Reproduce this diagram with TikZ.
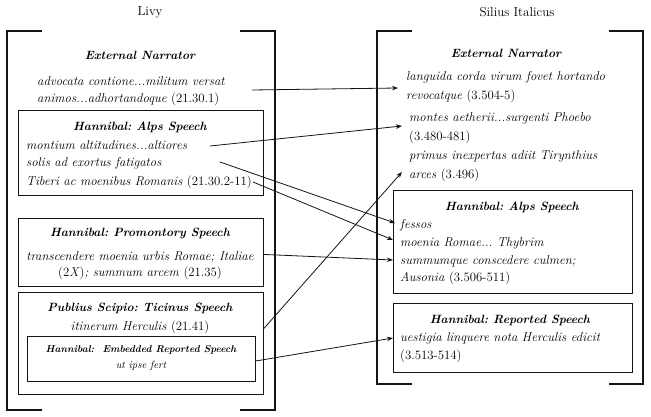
\documentclass[tikz,border=0pt]{standalone}
\usetikzlibrary{arrows.meta}
\newcommand{\passage}[1]{\textup{(#1)}}
\frenchspacing
\begin{document}
\begin{tikzpicture}[x=1pt,y=-1pt]

    % Plain black ink throughout
    \definecolor{inkcol}{RGB}{20,20,20}

    % Common text and line styles
    \tikzset{
        colhead/.style={font=\fontsize{13}{15}\selectfont, inner sep=0pt},
        voice/.style={font=\fontsize{12}{14}\selectfont\bfseries\itshape, inner sep=0pt},
        smallvoice/.style={font=\fontsize{10}{12}\selectfont\bfseries\itshape, inner sep=0pt},
        quoteline/.style={font=\fontsize{12.8}{15}\selectfont\itshape, inner sep=0pt, anchor=west},
        smallquote/.style={font=\fontsize{10.5}{12}\selectfont\itshape, inner sep=0pt},
        speechbox/.style={draw=inkcol, line width=0.9pt, inner sep=0pt, anchor=north west},
        sidebracket/.style={draw=inkcol, line width=1.2pt},
        link/.style={draw=inkcol, line width=0.8pt, -{Stealth[length=6pt,width=4.5pt]}}
    }

    \useasboundingbox (0,0) rectangle (651,417);

    % ======================= Livy =======================
    \begin{scope}
        \node[colhead] (livy) at (150,12) {Livy};
        \draw[sidebracket] (42,31) -- (7,31) -- (7,410) -- (42,410);
        \draw[sidebracket] (240,31) -- (275,31) -- (275,410) -- (240,410);

        \node[voice] (lnar) at (140,55) {External Narrator};
        \node[quoteline] (ladvA) at (37,81) {advocata contione...militum versat};
        \node[quoteline] (ladvB) at (37,99) {animos...adhortandoque \passage{21.30.1}};
        \coordinate (ladvout) at (252,90);

        \node[speechbox, minimum width=245pt, minimum height=85pt] (lalps) at (18,110) {};
        \node[voice] (lalpsT) at (140,127) {Hannibal: Alps Speech};
        \node[quoteline] (lmont) at (26,145) {montium altitudines...altiores};
        \node[quoteline] (lsolis) at (26,163) {solis ad exortus fatigatos};
        \node[quoteline] (ltib) at (26,182) {Tiberi ac moenibus Romanis \passage{21.30.2-11}};
        \coordinate (lmontout) at (210,146);
        \coordinate (lsolisout) at (220,162);

        \node[speechbox, minimum width=245pt, minimum height=68pt] (lprom) at (18,218) {};
        \node[voice] (lpromT) at (140,233) {Hannibal: Promontory Speech};
        \node[quoteline, anchor=center] (lpromA) at (140,257)
            {transcendere moenia urbis Romae; Italiae};
        \node[quoteline, anchor=center] (lpromB) at (140,273)
            {\textup{(2}X\textup{)}; summum arcem \passage{21.35}};

        \node[speechbox, minimum width=245pt, minimum height=102pt] (lscip) at (18,292) {};
        \node[voice] (lscipT) at (140,308) {Publius Scipio: Ticinus Speech};
        \node[quoteline, anchor=center] (litin) at (140,327) {itinerum Herculis \passage{21.41}};

        \node[speechbox, minimum width=228pt, minimum height=45pt] (lemb) at (27,336) {};
        \node[smallvoice] (lembT) at (141,350) {Hannibal:\ \ Embedded Reported Speech};
        \node[smallquote] (lipse) at (141,366) {ut ipse fert};
    \end{scope}

    % =================== Silius Italicus ===================
    \begin{scope}
        \node[colhead] (silius) at (517,12) {Silius Italicus};
        \draw[sidebracket] (412,31) -- (377,31) -- (377,384) -- (412,384);
        \draw[sidebracket] (609,31) -- (643,31) -- (643,384) -- (609,384);

        \node[voice] (rnar) at (506,53) {External Narrator};
        \node[quoteline] (rlang) at (406,77) {languida corda virum fovet hortando};
        \node[quoteline] (rrevo) at (406,96) {revocatque \passage{3.504-5}};
        \node[quoteline] (rmont) at (409,118) {montes aetherii...surgenti Phoebo};
        \node[quoteline] (rmontB) at (409,137) {\passage{3.480-481}};
        \node[quoteline] (rprim) at (409,156) {primus inexpertas adiit Tirynthius};
        \node[quoteline] (rarces) at (409,175) {arces \passage{3.496}};

        \node[speechbox, minimum width=239pt, minimum height=103pt] (ralps) at (393,190) {};
        \node[voice] (ralpsT) at (512,207) {Hannibal: Alps Speech};
        \node[quoteline] (rfess) at (400,225) {fessos};
        \node[quoteline] (rmoen) at (400,243) {moenia Romae... Thybrim};
        \node[quoteline] (rsumm) at (400,261) {summumque conscedere culmen;};
        \node[quoteline] (raus) at (400,278) {Ausonia \passage{3.506-511}};

        \node[speechbox, minimum width=239pt, minimum height=69pt] (rrep) at (393,303) {};
        \node[voice] (rrepT) at (510,320) {Hannibal: Reported Speech};
        \node[quoteline] (rvest) at (400,338) {uestigia linquere nota Herculis edicit};
        \node[quoteline] (rvestB) at (400,356) {\passage{3.513-514}};
    \end{scope}

    % ===================== Parallels =====================
    \draw[link] (ladvout) -- ([xshift=-8pt,yshift=-11pt]rlang.west);
    \draw[link] (lmontout) -- ([xshift=-7pt,yshift=-8pt]rmont.west);
    \draw[link] (lsolisout) -- ([xshift=-5pt,yshift=2pt]rfess.west);
    \draw[link] ([xshift=1pt]ltib.east) -- ([xshift=-7pt,yshift=3pt]rmoen.west);
    \draw[link] ([yshift=-2pt]lprom.east) -- ([xshift=-7pt,yshift=1pt]rsumm.west);
    \draw[link] ([yshift=15pt]lscip.east) -- ([xshift=-7pt,yshift=3pt]rarces.west);
    \draw[link] ([yshift=-2pt]lemb.east) -- ([xshift=-7pt]rvest.west);

\end{tikzpicture}
\end{document}
